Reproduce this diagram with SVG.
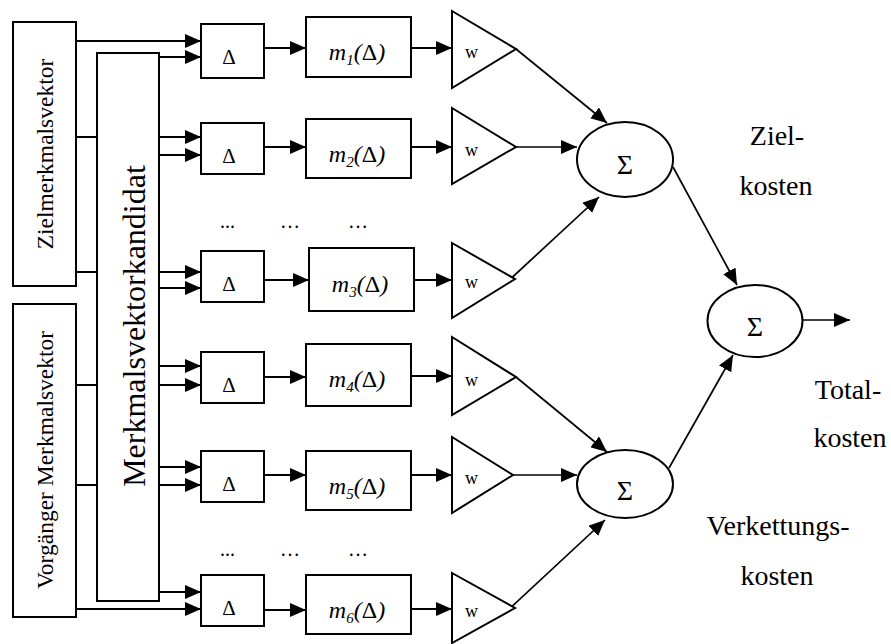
<svg xmlns="http://www.w3.org/2000/svg" width="891" height="644" viewBox="0 0 891 644">
<style>
.box{fill:#fff;stroke:#000;stroke-width:2}
.ln{fill:none;stroke:#000;stroke-width:2}
.thin{fill:none;stroke:#000;stroke-width:1.7}
.t{font-family:"Liberation Serif","Times New Roman",serif;fill:#000}
.d{font-size:21px;text-anchor:middle}
.m{font-size:24px;font-style:italic;text-anchor:middle}
.g{font-style:normal}
.w{font-size:18px}
.s{font-size:28px;text-anchor:middle}
.lab{font-size:28px;text-anchor:middle}
.dots{font-size:20px}
</style>
<defs>
<marker id="ah" markerUnits="userSpaceOnUse" markerWidth="16" markerHeight="14" refX="16" refY="7" orient="auto">
<path d="M0,0 L16,7 L0,14 Z" fill="#000"/>
</marker>
</defs>
<rect width="891" height="644" fill="#fff"/>

<g id="connectors">
<path class="ln" d="M76,137 H97 M76,272 H97 M76,385 H97 M76,485 H97"/>
<g marker-end="url(#ah)">
<path class="ln" d="M76,41 H201"/>
<path class="ln" d="M159,57 H201"/>
<path class="ln" d="M159,137 H201"/>
<path class="ln" d="M159,155 H201"/>
<path class="ln" d="M159,272 H201"/>
<path class="ln" d="M159,288 H201"/>
<path class="ln" d="M159,366 H201"/>
<path class="ln" d="M159,385 H201"/>
<path class="ln" d="M159,467 H201"/>
<path class="ln" d="M159,485 H201"/>
<path class="ln" d="M159,592 H201"/>
<path class="ln" d="M76,609 H201"/>
<path class="ln" d="M264,48 H306"/>
<path class="ln" d="M264,147 H306"/>
<path class="ln" d="M264,280 H309"/>
<path class="ln" d="M264,377 H306"/>
<path class="ln" d="M264,475 H306"/>
<path class="ln" d="M264,610 H306"/>
<path class="ln" d="M411,48 H452"/>
<path class="ln" d="M401,147 H452"/>
<path class="ln" d="M403,280 H452"/>
<path class="ln" d="M403,376 H452"/>
<path class="ln" d="M411,475 H452"/>
<path class="ln" d="M403,609 H452"/>
<path class="thin" d="M516,49 L607,123"/>
<path class="thin" d="M516,147 H577"/>
<path class="thin" d="M505,284 L599,197"/>
<path class="thin" d="M516,377 L607,452"/>
<path class="thin" d="M513,475 H577"/>
<path class="thin" d="M505,613 L605,520"/>
<path class="thin" d="M673,167 L737,285"/>
<path class="thin" d="M669,468 L733,355"/>
<path class="thin" d="M802,320 H850"/>
</g>
</g>

<g id="zielmerkmalsvektor">
<rect class="box" x="13" y="22" width="63" height="264"/>
<text class="t" font-size="23.5" text-anchor="middle" transform="translate(53,154) rotate(-90)">Zielmerkmalsvektor</text>
</g>
<g id="vorgaenger">
<rect class="box" x="13" y="304" width="63" height="313"/>
<text class="t" font-size="23.5" text-anchor="middle" transform="translate(53,460) rotate(-90)">Vorgänger Merkmalsvektor</text>
</g>
<g id="kandidat">
<rect class="box" x="97" y="53" width="62" height="548"/>
<text class="t" font-size="32" text-anchor="middle" transform="translate(145,326) rotate(-90)">Merkmalsvektorkandidat</text>
</g>

<g id="delta1"><rect class="box" x="201" y="24" width="63" height="54"/><text class="t d" x="229" y="64">Δ</text></g>
<g id="delta2"><rect class="box" x="201" y="123" width="63" height="51"/><text class="t d" x="229" y="163">Δ</text></g>
<g id="delta3"><rect class="box" x="201" y="251" width="63" height="51"/><text class="t d" x="229" y="291">Δ</text></g>
<g id="delta4"><rect class="box" x="201" y="352" width="63" height="51"/><text class="t d" x="229" y="392">Δ</text></g>
<g id="delta5"><rect class="box" x="201" y="451" width="63" height="51"/><text class="t d" x="229" y="491">Δ</text></g>
<g id="delta6"><rect class="box" x="201" y="575" width="63" height="51"/><text class="t d" x="229" y="615">Δ</text></g>

<g id="m1"><rect class="box" x="306" y="17" width="105" height="60"/><text class="t m" x="357" y="60">m<tspan font-size="15" dy="5">1</tspan><tspan dy="-5">(<tspan class="g">Δ</tspan>)</tspan></text></g>
<g id="m2"><rect class="box" x="306" y="119" width="105" height="59"/><text class="t m" x="357" y="162">m<tspan font-size="15" dy="5">2</tspan><tspan dy="-5">(<tspan class="g">Δ</tspan>)</tspan></text></g>
<g id="m3"><rect class="box" x="309" y="248" width="105" height="63"/><text class="t m" x="360" y="292">m<tspan font-size="15" dy="5">3</tspan><tspan dy="-5">(<tspan class="g">Δ</tspan>)</tspan></text></g>
<g id="m4"><rect class="box" x="306" y="344" width="105" height="62"/><text class="t m" x="357" y="387">m<tspan font-size="15" dy="5">4</tspan><tspan dy="-5">(<tspan class="g">Δ</tspan>)</tspan></text></g>
<g id="m5"><rect class="box" x="306" y="451" width="105" height="59"/><text class="t m" x="357" y="494">m<tspan font-size="15" dy="5">5</tspan><tspan dy="-5">(<tspan class="g">Δ</tspan>)</tspan></text></g>
<g id="m6"><rect class="box" x="306" y="575" width="105" height="59"/><text class="t m" x="357" y="618">m<tspan font-size="15" dy="5">6</tspan><tspan dy="-5">(<tspan class="g">Δ</tspan>)</tspan></text></g>

<g id="w1"><polygon class="box" points="452,11 516,49 452,88"/><text class="t w" x="465" y="58">w</text></g>
<g id="w2"><polygon class="box" points="452,108 516,147 452,184"/><text class="t w" x="465" y="156">w</text></g>
<g id="w3"><polygon class="box" points="452,243 515,279 452,318"/><text class="t w" x="465" y="288">w</text></g>
<g id="w4"><polygon class="box" points="452,337 516,377 452,415"/><text class="t w" x="465" y="386">w</text></g>
<g id="w5"><polygon class="box" points="452,437 513,475 452,513"/><text class="t w" x="465" y="484">w</text></g>
<g id="w6"><polygon class="box" points="452,573 515,608 452,643"/><text class="t w" x="465" y="617">w</text></g>

<g id="sum1"><ellipse class="box" cx="625" cy="159.5" rx="48" ry="37.5"/><text class="t s" x="625" y="174">Σ</text></g>
<g id="sum2"><ellipse class="box" cx="625" cy="484" rx="48" ry="34"/><text class="t s" x="625" y="500">Σ</text></g>
<g id="sum3"><ellipse class="box" cx="755" cy="321" rx="47.5" ry="36"/><text class="t s" x="755" y="336">Σ</text></g>

<g id="dots">
<text class="t dots" x="220" y="228">...</text>
<text class="t dots" x="280" y="228">…</text>
<text class="t dots" x="348" y="228">…</text>
<text class="t dots" x="220" y="556">...</text>
<text class="t dots" x="280" y="556">…</text>
<text class="t dots" x="348" y="556">…</text>
</g>

<g id="labels">
<text class="t lab" x="777" y="145">Ziel-</text>
<text class="t lab" x="776" y="195">kosten</text>
<text class="t lab" x="848" y="399">Total-</text>
<text class="t lab" x="850" y="447">kosten</text>
<text class="t lab" x="778" y="535">Verkettungs-</text>
<text class="t lab" x="777" y="585">kosten</text>
</g>
</svg>
